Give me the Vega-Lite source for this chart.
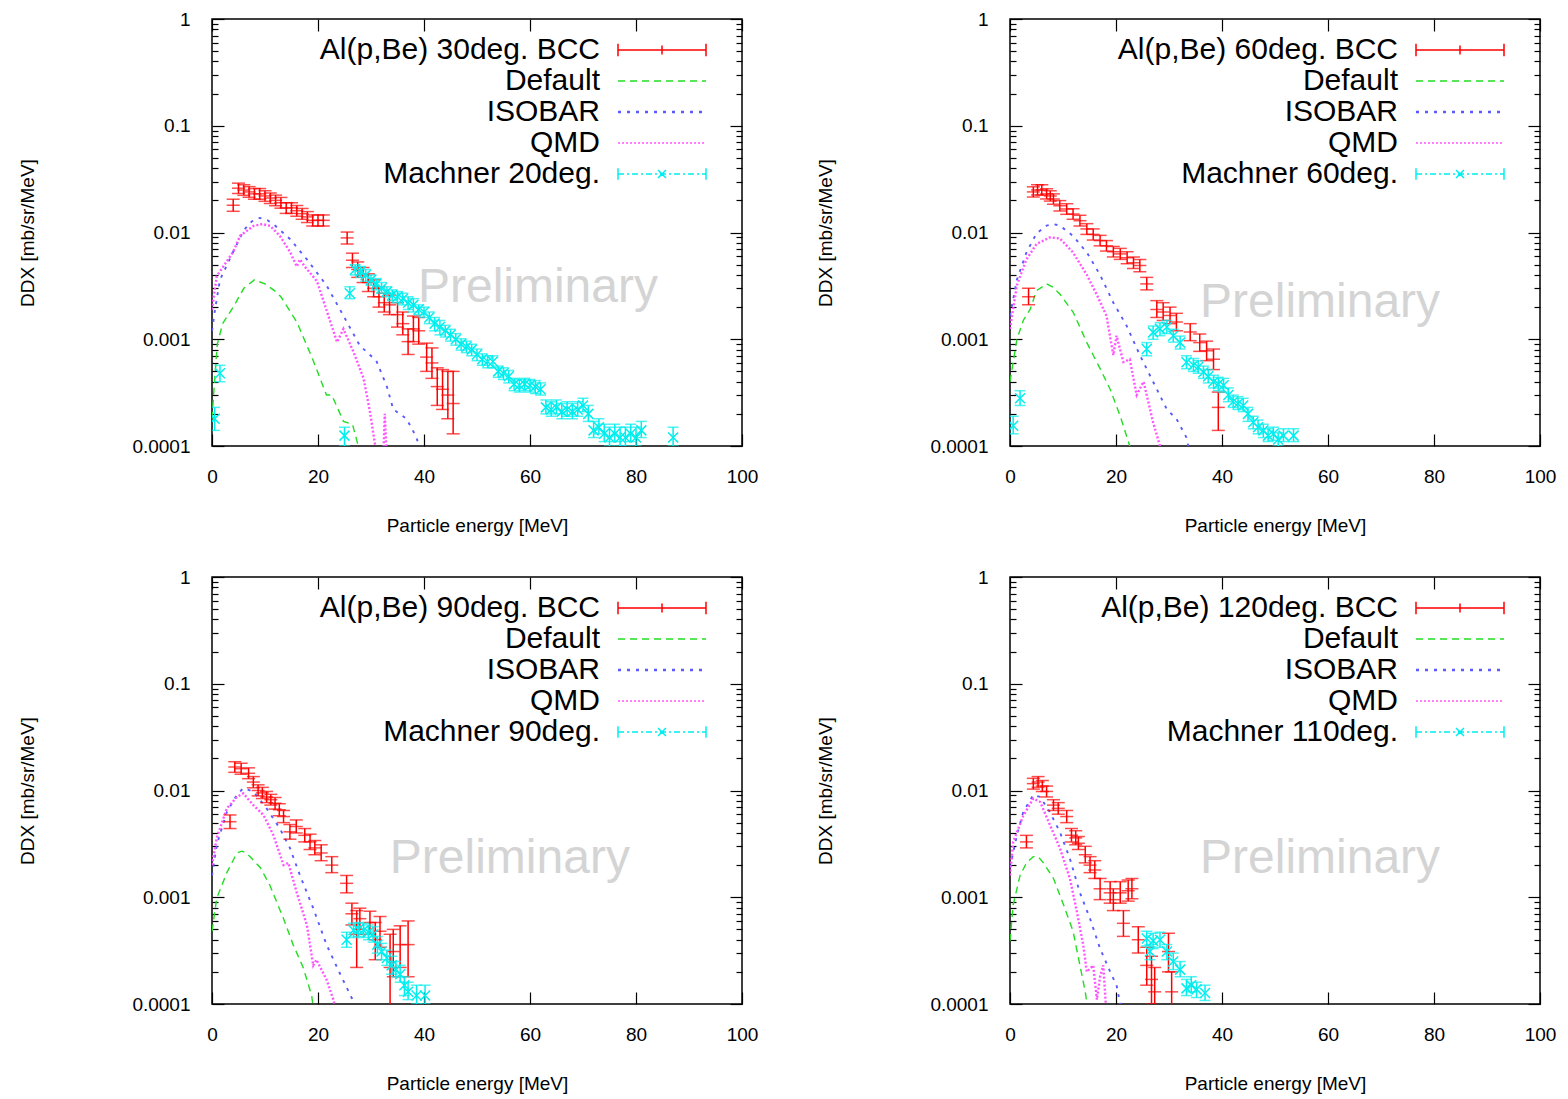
{
"$schema": "https://vega.github.io/schema/vega-lite/v6.json",
"background": "#ffffff",
"padding": {"left": 18, "top": 9, "right": 5, "bottom": 5},
"config": {"font": "Liberation Sans", "view": {"stroke": "#000000", "strokeWidth": 1.5}, "axis": {"domain": false, "grid": false}},
"datasets": {
"l1": [
{"s":"Default","E":0,"v":0.00018},{"s":"Default","E":0.3,"v":0.0003},{"s":"Default","E":1,"v":0.0009},{"s":"Default","E":2,"v":0.0014},{"s":"Default","E":4,"v":0.002},{"s":"Default","E":6,"v":0.003},{"s":"Default","E":8,"v":0.0036},{"s":"Default","E":10,"v":0.0033},{"s":"Default","E":12,"v":0.0028},{"s":"Default","E":13,"v":0.0025},{"s":"Default","E":16,"v":0.00145},{"s":"Default","E":19,"v":0.00065},{"s":"Default","E":21.6,"v":0.0003},{"s":"Default","E":22.6,"v":0.0003},{"s":"Default","E":24.8,"v":0.00017},{"s":"Default","E":26.5,"v":0.00016},{"s":"Default","E":27.6,"v":0.0001},{"s":"Default","E":28,"v":0.00008},
{"s":"ISOBAR","E":0,"v":0.0012},{"s":"ISOBAR","E":0.5,"v":0.0018},{"s":"ISOBAR","E":1.5,"v":0.0036},{"s":"ISOBAR","E":4,"v":0.0066},{"s":"ISOBAR","E":6,"v":0.0105},{"s":"ISOBAR","E":7.5,"v":0.0127},{"s":"ISOBAR","E":9,"v":0.0137},{"s":"ISOBAR","E":10.5,"v":0.013},{"s":"ISOBAR","E":12,"v":0.0115},{"s":"ISOBAR","E":14.7,"v":0.0087},{"s":"ISOBAR","E":17.9,"v":0.0056},{"s":"ISOBAR","E":21.6,"v":0.0032},{"s":"ISOBAR","E":24.8,"v":0.00166},{"s":"ISOBAR","E":27.9,"v":0.00087},{"s":"ISOBAR","E":31,"v":0.00063},{"s":"ISOBAR","E":33,"v":0.00036},{"s":"ISOBAR","E":34.2,"v":0.00022},{"s":"ISOBAR","E":36.7,"v":0.00018},{"s":"ISOBAR","E":38.6,"v":0.00012},{"s":"ISOBAR","E":39.5,"v":0.00008},
{"s":"QMD","E":0,"v":0.0019},{"s":"QMD","E":0.9,"v":0.0039},{"s":"QMD","E":4,"v":0.0066},{"s":"QMD","E":5.3,"v":0.0093},{"s":"QMD","E":7.8,"v":0.0115},{"s":"QMD","E":9.5,"v":0.012},{"s":"QMD","E":11,"v":0.0115},{"s":"QMD","E":12.8,"v":0.0093},{"s":"QMD","E":14.7,"v":0.0066},{"s":"QMD","E":16,"v":0.0048},{"s":"QMD","E":16.6,"v":0.0056},{"s":"QMD","E":17.5,"v":0.0048},{"s":"QMD","E":19.8,"v":0.0035},{"s":"QMD","E":23.6,"v":0.00094},{"s":"QMD","E":24.8,"v":0.00125},{"s":"QMD","E":26.7,"v":0.00076},{"s":"QMD","E":28.6,"v":0.00043},{"s":"QMD","E":29.8,"v":0.00021},{"s":"QMD","E":30.8,"v":0.0001},{"s":"QMD","E":31.5,"v":0.00007},{"s":"QMD","E":32.3,"v":0.00007},{"s":"QMD","E":32.6,"v":0.0002},{"s":"QMD","E":33,"v":0.00007}
],
"b1": [
{"E":4,"v":0.018,"lo":0.0158,"hi":0.0205},{"E":5,"v":0.026,"lo":0.0232,"hi":0.029},{"E":6,"v":0.025,"lo":0.0223,"hi":0.028},{"E":7,"v":0.024,"lo":0.0214,"hi":0.0269},{"E":8,"v":0.023,"lo":0.0205,"hi":0.0258},{"E":9,"v":0.023,"lo":0.0205,"hi":0.0258},{"E":10,"v":0.022,"lo":0.0196,"hi":0.0246},{"E":11,"v":0.021,"lo":0.0187,"hi":0.0235},{"E":12,"v":0.02,"lo":0.0178,"hi":0.0224},{"E":13,"v":0.019,"lo":0.0169,"hi":0.0213},{"E":14,"v":0.017,"lo":0.0151,"hi":0.019},{"E":15,"v":0.017,"lo":0.0151,"hi":0.019},{"E":16,"v":0.016,"lo":0.0142,"hi":0.0179},{"E":17,"v":0.015,"lo":0.0133,"hi":0.0168},{"E":18,"v":0.014,"lo":0.0124,"hi":0.0157},{"E":19,"v":0.013,"lo":0.0115,"hi":0.0146},{"E":20,"v":0.013,"lo":0.0115,"hi":0.0146},{"E":21,"v":0.013,"lo":0.0115,"hi":0.0146},
{"E":25.5,"v":0.0089,"lo":0.0078,"hi":0.0101},{"E":26.5,"v":0.0055,"lo":0.0047,"hi":0.0064},{"E":27.5,"v":0.0045,"lo":0.0038,"hi":0.0053},{"E":28.5,"v":0.004,"lo":0.0034,"hi":0.0047},{"E":29.5,"v":0.0034,"lo":0.0028,"hi":0.0041},{"E":30.5,"v":0.003,"lo":0.0025,"hi":0.0036},{"E":31.5,"v":0.0025,"lo":0.002,"hi":0.0031},{"E":32.5,"v":0.0022,"lo":0.0018,"hi":0.0027},{"E":33.5,"v":0.0021,"lo":0.0017,"hi":0.0026},{"E":35,"v":0.0017,"lo":0.0013,"hi":0.0022},{"E":36,"v":0.0014,"lo":0.0011,"hi":0.0018},{"E":37,"v":0.00095,"lo":0.00072,"hi":0.00125},{"E":38,"v":0.00125,"lo":0.00095,"hi":0.00165},{"E":39,"v":0.0012,"lo":0.0009,"hi":0.0016},{"E":40.5,"v":0.00068,"lo":0.0005,"hi":0.00092},{"E":41.5,"v":0.0006,"lo":0.00043,"hi":0.00083},{"E":42.5,"v":0.00036,"lo":0.00024,"hi":0.00054},{"E":43.5,"v":0.00034,"lo":0.00022,"hi":0.00052},{"E":44.5,"v":0.0003,"lo":0.00018,"hi":0.0005},{"E":45.5,"v":0.00025,"lo":0.00013,"hi":0.0005}
],
"m1": [
{"E":0.5,"v":0.00018,"lo":0.00014,"hi":0.00023},{"E":1.5,"v":0.00048,"lo":0.0004,"hi":0.00057},{"E":25,"v":0.000125,"lo":0.0001,"hi":0.00015},{"E":26,"v":0.0027,"lo":0.0024,"hi":0.0031},{"E":27,"v":0.0045,"lo":0.004,"hi":0.005},{"E":28,"v":0.0043,"lo":0.0038,"hi":0.0048},{"E":29,"v":0.004,"lo":0.0035,"hi":0.0045},{"E":30,"v":0.0036,"lo":0.0032,"hi":0.004},{"E":31,"v":0.0033,"lo":0.0029,"hi":0.0037},{"E":32,"v":0.003,"lo":0.0027,"hi":0.0034},{"E":33,"v":0.0028,"lo":0.0025,"hi":0.0031},{"E":34,"v":0.0026,"lo":0.0023,"hi":0.0029},{"E":35,"v":0.0025,"lo":0.0022,"hi":0.0028},{"E":36,"v":0.0024,"lo":0.0021,"hi":0.0027},{"E":37,"v":0.0022,"lo":0.0019,"hi":0.0025},{"E":38,"v":0.0021,"lo":0.0018,"hi":0.0024},{"E":39,"v":0.0019,"lo":0.0017,"hi":0.0021},{"E":40,"v":0.0018,"lo":0.0016,"hi":0.002},{"E":41,"v":0.0016,"lo":0.0014,"hi":0.0018},{"E":42,"v":0.0014,"lo":0.0012,"hi":0.0016},{"E":43,"v":0.0013,"lo":0.0011,"hi":0.0015},{"E":44,"v":0.0012,"lo":0.00105,"hi":0.00135},{"E":45,"v":0.0011,"lo":0.00096,"hi":0.00124},{"E":46,"v":0.001,"lo":0.00088,"hi":0.00113},{"E":47,"v":0.0009,"lo":0.00079,"hi":0.00101},{"E":48,"v":0.00085,"lo":0.00075,"hi":0.00096},{"E":49,"v":0.0008,"lo":0.0007,"hi":0.0009},{"E":50,"v":0.00072,"lo":0.00063,"hi":0.00081},{"E":51,"v":0.00065,"lo":0.00057,"hi":0.00073},{"E":52,"v":0.00062,"lo":0.00054,"hi":0.0007},{"E":53,"v":0.00062,"lo":0.00054,"hi":0.0007},{"E":54,"v":0.0005,"lo":0.00044,"hi":0.00056},{"E":55,"v":0.00048,"lo":0.00042,"hi":0.00054},{"E":56,"v":0.00045,"lo":0.00039,"hi":0.00051},{"E":57,"v":0.00038,"lo":0.00033,"hi":0.00043},{"E":58,"v":0.00037,"lo":0.00032,"hi":0.00042},{"E":59,"v":0.00038,"lo":0.00033,"hi":0.00043},{"E":60,"v":0.00037,"lo":0.00032,"hi":0.00042},{"E":61,"v":0.00036,"lo":0.00031,"hi":0.00041},{"E":62,"v":0.00034,"lo":0.0003,"hi":0.00039},{"E":63,"v":0.00023,"lo":0.0002,"hi":0.00027},{"E":64,"v":0.00022,"lo":0.00019,"hi":0.00026},{"E":65,"v":0.00023,"lo":0.0002,"hi":0.00027},{"E":66,"v":0.00021,"lo":0.00018,"hi":0.00025},{"E":67,"v":0.00022,"lo":0.00019,"hi":0.00026},{"E":68,"v":0.00021,"lo":0.00018,"hi":0.00025},{"E":69,"v":0.00022,"lo":0.00019,"hi":0.00026},{"E":70,"v":0.00024,"lo":0.00021,"hi":0.00028},{"E":71,"v":0.0002,"lo":0.00017,"hi":0.00024},{"E":72,"v":0.00014,"lo":0.00012,"hi":0.00017},{"E":73,"v":0.00015,"lo":0.00013,"hi":0.00018},{"E":74,"v":0.00013,"lo":0.00011,"hi":0.00016},{"E":75,"v":0.00012,"lo":0.0001,"hi":0.00015},{"E":76,"v":0.00013,"lo":0.00011,"hi":0.00016},{"E":77,"v":0.00012,"lo":0.0001,"hi":0.00015},{"E":78,"v":0.00012,"lo":0.0001,"hi":0.00015},{"E":79,"v":0.00013,"lo":0.00011,"hi":0.00016},{"E":80,"v":0.00012,"lo":0.0001,"hi":0.00015},{"E":81,"v":0.00014,"lo":0.00012,"hi":0.00017},{"E":87,"v":0.00012,"lo":0.0001,"hi":0.00015}
],
"l2": [
{"s":"Default","E":0,"v":0.0004},{"s":"Default","E":1.3,"v":0.001},{"s":"Default","E":2.5,"v":0.0015},{"s":"Default","E":3.8,"v":0.0019},{"s":"Default","E":5,"v":0.00285},{"s":"Default","E":6.9,"v":0.0033},{"s":"Default","E":8,"v":0.0031},{"s":"Default","E":9.4,"v":0.00265},{"s":"Default","E":11.9,"v":0.0018},{"s":"Default","E":14.5,"v":0.00093},{"s":"Default","E":17,"v":0.00053},{"s":"Default","E":18.9,"v":0.00034},{"s":"Default","E":20.8,"v":0.00019},{"s":"Default","E":22.6,"v":0.0001},{"s":"Default","E":23.2,"v":0.00008},
{"s":"ISOBAR","E":0,"v":0.00166},{"s":"ISOBAR","E":1.3,"v":0.0036},{"s":"ISOBAR","E":3.1,"v":0.0065},{"s":"ISOBAR","E":5,"v":0.0098},{"s":"ISOBAR","E":6.9,"v":0.0116},{"s":"ISOBAR","E":8.2,"v":0.012},{"s":"ISOBAR","E":9.4,"v":0.0116},{"s":"ISOBAR","E":11.9,"v":0.0093},{"s":"ISOBAR","E":14.5,"v":0.0065},{"s":"ISOBAR","E":17,"v":0.004},{"s":"ISOBAR","E":19.5,"v":0.0022},{"s":"ISOBAR","E":22,"v":0.00134},{"s":"ISOBAR","E":24.5,"v":0.00071},{"s":"ISOBAR","E":27,"v":0.0004},{"s":"ISOBAR","E":29.6,"v":0.00022},{"s":"ISOBAR","E":31.4,"v":0.00018},{"s":"ISOBAR","E":33.3,"v":0.00012},{"s":"ISOBAR","E":34,"v":0.00008},
{"s":"QMD","E":0,"v":0.00125},{"s":"QMD","E":1.3,"v":0.0032},{"s":"QMD","E":3.1,"v":0.0056},{"s":"QMD","E":5,"v":0.0078},{"s":"QMD","E":7.5,"v":0.009},{"s":"QMD","E":9.4,"v":0.0088},{"s":"QMD","E":11.9,"v":0.0065},{"s":"QMD","E":14.5,"v":0.004},{"s":"QMD","E":16.4,"v":0.0026},{"s":"QMD","E":18.2,"v":0.00166},{"s":"QMD","E":19.5,"v":0.00071},{"s":"QMD","E":20.1,"v":0.00108},{"s":"QMD","E":21.4,"v":0.00061},{"s":"QMD","E":22.6,"v":0.00065},{"s":"QMD","E":23.9,"v":0.0003},{"s":"QMD","E":25.2,"v":0.0004},{"s":"QMD","E":27,"v":0.000167},{"s":"QMD","E":28.3,"v":0.0001},{"s":"QMD","E":28.9,"v":0.00007}
],
"b2": [
{"E":3.5,"v":0.0025,"lo":0.0021,"hi":0.003},{"E":4.4,"v":0.024,"lo":0.0215,"hi":0.0268},{"E":5.2,"v":0.025,"lo":0.0224,"hi":0.028},{"E":6,"v":0.025,"lo":0.0224,"hi":0.028},{"E":6.9,"v":0.023,"lo":0.0206,"hi":0.0257},{"E":7.6,"v":0.022,"lo":0.0197,"hi":0.0246},{"E":8.2,"v":0.0206,"lo":0.0184,"hi":0.023},{"E":9.4,"v":0.0178,"lo":0.0159,"hi":0.0199},{"E":10.7,"v":0.0166,"lo":0.0148,"hi":0.0186},{"E":11.9,"v":0.0149,"lo":0.0133,"hi":0.0167},{"E":13.2,"v":0.0129,"lo":0.0115,"hi":0.0145},{"E":14.5,"v":0.0108,"lo":0.0096,"hi":0.0121},{"E":15.7,"v":0.0096,"lo":0.0085,"hi":0.0108},{"E":17,"v":0.0084,"lo":0.0075,"hi":0.0094},{"E":18.2,"v":0.0075,"lo":0.0067,"hi":0.0084},{"E":19.5,"v":0.0066,"lo":0.0059,"hi":0.0074},{"E":20.8,"v":0.0063,"lo":0.0056,"hi":0.0071},{"E":22.1,"v":0.0058,"lo":0.0051,"hi":0.0066},{"E":23.3,"v":0.0052,"lo":0.0046,"hi":0.0059},{"E":24.5,"v":0.0049,"lo":0.0043,"hi":0.0056},{"E":25.8,"v":0.0033,"lo":0.0029,"hi":0.0038},{"E":27.7,"v":0.0019,"lo":0.0016,"hi":0.0023},{"E":28.9,"v":0.0018,"lo":0.0015,"hi":0.0022},{"E":30.2,"v":0.00167,"lo":0.0014,"hi":0.002},{"E":31.4,"v":0.00145,"lo":0.0012,"hi":0.00175},{"E":34,"v":0.00117,"lo":0.00097,"hi":0.0014},{"E":35.8,"v":0.00093,"lo":0.00077,"hi":0.00112},{"E":37.1,"v":0.00078,"lo":0.00063,"hi":0.00096},{"E":38.4,"v":0.00065,"lo":0.00052,"hi":0.00081},{"E":39.3,"v":0.00023,"lo":0.00014,"hi":0.00032}
],
"m2": [
{"E":0.6,"v":0.000155,"lo":0.00013,"hi":0.00019},{"E":1.9,"v":0.00028,"lo":0.00024,"hi":0.00033},{"E":25.8,"v":0.00081,"lo":0.0007,"hi":0.00093},{"E":27,"v":0.00116,"lo":0.001,"hi":0.00133},{"E":28.3,"v":0.00125,"lo":0.00108,"hi":0.00143},{"E":29.6,"v":0.0013,"lo":0.00113,"hi":0.0015},{"E":30.8,"v":0.00108,"lo":0.00094,"hi":0.00124},{"E":32.1,"v":0.00093,"lo":0.00081,"hi":0.00107},{"E":33.3,"v":0.00061,"lo":0.00053,"hi":0.0007},{"E":34.6,"v":0.00057,"lo":0.0005,"hi":0.00066},{"E":35.5,"v":0.00055,"lo":0.00048,"hi":0.00063},{"E":36.5,"v":0.00049,"lo":0.00043,"hi":0.00056},{"E":37.4,"v":0.00045,"lo":0.00039,"hi":0.00052},{"E":38.4,"v":0.0004,"lo":0.00035,"hi":0.00046},{"E":39.3,"v":0.00038,"lo":0.00033,"hi":0.00044},{"E":40.3,"v":0.00037,"lo":0.00032,"hi":0.00043},{"E":41.2,"v":0.0003,"lo":0.00026,"hi":0.00035},{"E":42.1,"v":0.00026,"lo":0.00023,"hi":0.0003},{"E":43,"v":0.00025,"lo":0.00022,"hi":0.00029},{"E":44,"v":0.00024,"lo":0.00021,"hi":0.00028},{"E":44.9,"v":0.0002,"lo":0.00017,"hi":0.00023},{"E":45.9,"v":0.000167,"lo":0.000145,"hi":0.00019},{"E":46.8,"v":0.00015,"lo":0.00013,"hi":0.000175},{"E":47.8,"v":0.00014,"lo":0.00012,"hi":0.00016},{"E":48.7,"v":0.000125,"lo":0.00011,"hi":0.000145},{"E":49.7,"v":0.00013,"lo":0.000113,"hi":0.00015},{"E":50.6,"v":0.000115,"lo":0.0001,"hi":0.000133},{"E":51.6,"v":0.000125,"lo":0.00011,"hi":0.000145},{"E":53.5,"v":0.000125,"lo":0.00011,"hi":0.000145}
],
"l3": [
{"s":"Default","E":0,"v":0.00048},{"s":"Default","E":0.9,"v":0.00098},{"s":"Default","E":2.8,"v":0.0017},{"s":"Default","E":4.7,"v":0.0026},{"s":"Default","E":5.6,"v":0.0027},{"s":"Default","E":6.5,"v":0.0026},{"s":"Default","E":9.1,"v":0.0019},{"s":"Default","E":10.9,"v":0.0013},{"s":"Default","E":13.5,"v":0.00063},{"s":"Default","E":15.3,"v":0.00036},{"s":"Default","E":17.2,"v":0.00022},{"s":"Default","E":18.8,"v":0.00012},{"s":"Default","E":19.3,"v":0.00008},
{"s":"ISOBAR","E":0,"v":0.0016},{"s":"ISOBAR","E":0.9,"v":0.0031},{"s":"ISOBAR","E":2.8,"v":0.0063},{"s":"ISOBAR","E":4.7,"v":0.0091},{"s":"ISOBAR","E":5.9,"v":0.0105},{"s":"ISOBAR","E":7.8,"v":0.0098},{"s":"ISOBAR","E":10.3,"v":0.0068},{"s":"ISOBAR","E":12.8,"v":0.0044},{"s":"ISOBAR","E":14.7,"v":0.0029},{"s":"ISOBAR","E":16.6,"v":0.0016},{"s":"ISOBAR","E":19.1,"v":0.00079},{"s":"ISOBAR","E":21.6,"v":0.00036},{"s":"ISOBAR","E":24.2,"v":0.00019},{"s":"ISOBAR","E":26.4,"v":0.000113},{"s":"ISOBAR","E":27,"v":0.00008},
{"s":"QMD","E":0,"v":0.002},{"s":"QMD","E":0.9,"v":0.0036},{"s":"QMD","E":2.8,"v":0.0068},{"s":"QMD","E":4.7,"v":0.0087},{"s":"QMD","E":5.9,"v":0.0094},{"s":"QMD","E":7.8,"v":0.0073},{"s":"QMD","E":9.7,"v":0.0059},{"s":"QMD","E":11.6,"v":0.0038},{"s":"QMD","E":13.5,"v":0.002},{"s":"QMD","E":14.4,"v":0.0021},{"s":"QMD","E":16,"v":0.0011},{"s":"QMD","E":17.9,"v":0.00055},{"s":"QMD","E":19.1,"v":0.00023},{"s":"QMD","E":19.7,"v":0.00026},{"s":"QMD","E":21.6,"v":0.00017},{"s":"QMD","E":22.9,"v":0.00011},{"s":"QMD","E":23.5,"v":0.00008}
],
"b3": [
{"E":3.4,"v":0.0051,"lo":0.0044,"hi":0.0059},{"E":4.3,"v":0.0166,"lo":0.0148,"hi":0.0186},{"E":5.5,"v":0.016,"lo":0.0142,"hi":0.018},{"E":6.9,"v":0.0145,"lo":0.0129,"hi":0.0163},{"E":7.8,"v":0.012,"lo":0.0106,"hi":0.0135},{"E":8.7,"v":0.01,"lo":0.0089,"hi":0.0113},{"E":9.5,"v":0.0095,"lo":0.0084,"hi":0.0107},{"E":10.3,"v":0.0087,"lo":0.0077,"hi":0.0098},{"E":11.1,"v":0.0082,"lo":0.0073,"hi":0.0092},{"E":11.9,"v":0.0076,"lo":0.0067,"hi":0.0086},{"E":12.7,"v":0.0066,"lo":0.0058,"hi":0.0075},{"E":13.5,"v":0.0057,"lo":0.005,"hi":0.0065},{"E":14.7,"v":0.0041,"lo":0.0035,"hi":0.0048},{"E":15.9,"v":0.0046,"lo":0.004,"hi":0.0053},{"E":17.5,"v":0.0038,"lo":0.0033,"hi":0.0044},{"E":18.5,"v":0.0033,"lo":0.0028,"hi":0.0039},{"E":19.4,"v":0.0029,"lo":0.0025,"hi":0.0034},{"E":20.6,"v":0.0026,"lo":0.0022,"hi":0.0031},{"E":22.6,"v":0.002,"lo":0.0017,"hi":0.0024},{"E":25.4,"v":0.00135,"lo":0.0011,"hi":0.0016},{"E":26.4,"v":0.0007,"lo":0.00055,"hi":0.00088},{"E":27.3,"v":0.00045,"lo":0.00022,"hi":0.00075},{"E":27.9,"v":0.00063,"lo":0.0005,"hi":0.00079},{"E":29.8,"v":0.00058,"lo":0.00045,"hi":0.00074},{"E":30.8,"v":0.0004,"lo":0.00026,"hi":0.00058},{"E":31.7,"v":0.00048,"lo":0.00034,"hi":0.00066},{"E":33.6,"v":0.00022,"lo":0.00008,"hi":0.00045},{"E":34.2,"v":0.00031,"lo":0.00018,"hi":0.0005},{"E":35.5,"v":0.00036,"lo":0.00022,"hi":0.00054},{"E":37,"v":0.00036,"lo":0.00018,"hi":0.0006}
],
"m3": [
{"E":25.4,"v":0.0004,"lo":0.00034,"hi":0.00047},{"E":26.7,"v":0.00049,"lo":0.00042,"hi":0.00057},{"E":27.6,"v":0.0005,"lo":0.00043,"hi":0.00058},{"E":28.6,"v":0.00049,"lo":0.00042,"hi":0.00057},{"E":29.5,"v":0.00047,"lo":0.0004,"hi":0.00055},{"E":30.4,"v":0.00045,"lo":0.00038,"hi":0.00053},{"E":31.2,"v":0.00036,"lo":0.0003,"hi":0.00043},{"E":32,"v":0.00031,"lo":0.00026,"hi":0.00037},{"E":33,"v":0.00027,"lo":0.00023,"hi":0.00032},{"E":33.9,"v":0.00023,"lo":0.00019,"hi":0.00028},{"E":34.7,"v":0.00021,"lo":0.00018,"hi":0.00025},{"E":35.5,"v":0.00019,"lo":0.00016,"hi":0.00023},{"E":36.3,"v":0.00015,"lo":0.00012,"hi":0.00018},{"E":37,"v":0.00013,"lo":0.00011,"hi":0.00016},{"E":38.6,"v":0.00012,"lo":0.0001,"hi":0.00015},{"E":40.2,"v":0.00012,"lo":0.0001,"hi":0.00015}
],
"l4": [
{"s":"Default","E":0,"v":0.00039},{"s":"Default","E":0.6,"v":0.00085},{"s":"Default","E":1.9,"v":0.0016},{"s":"Default","E":3.1,"v":0.0021},{"s":"Default","E":4.4,"v":0.0024},{"s":"Default","E":5.3,"v":0.0024},{"s":"Default","E":6.3,"v":0.0021},{"s":"Default","E":8.2,"v":0.0015},{"s":"Default","E":10.1,"v":0.00085},{"s":"Default","E":11.9,"v":0.00048},{"s":"Default","E":13.2,"v":0.00023},{"s":"Default","E":14.2,"v":0.00013},{"s":"Default","E":14.8,"v":0.00008},
{"s":"ISOBAR","E":0,"v":0.0019},{"s":"ISOBAR","E":1.3,"v":0.0038},{"s":"ISOBAR","E":2.5,"v":0.0063},{"s":"ISOBAR","E":4.4,"v":0.0091},{"s":"ISOBAR","E":5.7,"v":0.0087},{"s":"ISOBAR","E":7.5,"v":0.0063},{"s":"ISOBAR","E":9.4,"v":0.0041},{"s":"ISOBAR","E":11.3,"v":0.0023},{"s":"ISOBAR","E":13.2,"v":0.0011},{"s":"ISOBAR","E":15.1,"v":0.00063},{"s":"ISOBAR","E":17,"v":0.00033},{"s":"ISOBAR","E":18.9,"v":0.0002},{"s":"ISOBAR","E":20.1,"v":0.00015},{"s":"ISOBAR","E":20.8,"v":0.0001},{"s":"ISOBAR","E":21.2,"v":0.00008},
{"s":"QMD","E":0,"v":0.0016},{"s":"QMD","E":0.6,"v":0.0033},{"s":"QMD","E":2.5,"v":0.0058},{"s":"QMD","E":4.4,"v":0.0084},{"s":"QMD","E":5.7,"v":0.0078},{"s":"QMD","E":7.5,"v":0.0048},{"s":"QMD","E":9.4,"v":0.0029},{"s":"QMD","E":11.3,"v":0.0015},{"s":"QMD","E":12.6,"v":0.00074},{"s":"QMD","E":13.8,"v":0.00036},{"s":"QMD","E":14.5,"v":0.0002},{"s":"QMD","E":15.7,"v":0.00023},{"s":"QMD","E":16.4,"v":0.00011},{"s":"QMD","E":17,"v":0.00018},{"s":"QMD","E":17.6,"v":0.00023},{"s":"QMD","E":18.2,"v":0.00008}
],
"b4": [
{"E":3.1,"v":0.0033,"lo":0.0029,"hi":0.0038},{"E":4.4,"v":0.0116,"lo":0.0103,"hi":0.013},{"E":5.3,"v":0.012,"lo":0.0107,"hi":0.0135},{"E":6.1,"v":0.011,"lo":0.0098,"hi":0.0124},{"E":6.9,"v":0.0098,"lo":0.0087,"hi":0.011},{"E":8.2,"v":0.0073,"lo":0.0065,"hi":0.0082},{"E":9.1,"v":0.0068,"lo":0.006,"hi":0.0077},{"E":10.7,"v":0.0057,"lo":0.005,"hi":0.0065},{"E":11.6,"v":0.0038,"lo":0.0033,"hi":0.0044},{"E":12.4,"v":0.0036,"lo":0.0031,"hi":0.0042},{"E":12.9,"v":0.0032,"lo":0.0028,"hi":0.0037},{"E":14.2,"v":0.0025,"lo":0.0021,"hi":0.003},{"E":15.1,"v":0.002,"lo":0.0017,"hi":0.0024},{"E":16,"v":0.0018,"lo":0.0015,"hi":0.0022},{"E":17,"v":0.0012,"lo":0.00095,"hi":0.0015},{"E":18.9,"v":0.0011,"lo":0.00088,"hi":0.0014},{"E":19.5,"v":0.00095,"lo":0.00075,"hi":0.0012},{"E":20.8,"v":0.0011,"lo":0.00088,"hi":0.0014},{"E":21.4,"v":0.00057,"lo":0.00043,"hi":0.00075},{"E":22.3,"v":0.00115,"lo":0.00092,"hi":0.00145},{"E":23,"v":0.0012,"lo":0.00097,"hi":0.0015},{"E":24.2,"v":0.0004,"lo":0.0003,"hi":0.00053},{"E":25.8,"v":0.00023,"lo":0.00015,"hi":0.00034},{"E":26.7,"v":0.00017,"lo":0.0001,"hi":0.00028},{"E":27.3,"v":0.00013,"lo":0.00007,"hi":0.00022},{"E":29.9,"v":0.00031,"lo":0.0002,"hi":0.00046},{"E":30.5,"v":0.00013,"lo":0.00008,"hi":0.0002}
],
"m4": [
{"E":25.8,"v":0.00041,"lo":0.00035,"hi":0.00048},{"E":26.4,"v":0.00031,"lo":0.00026,"hi":0.00036},{"E":27,"v":0.00039,"lo":0.00033,"hi":0.00046},{"E":28.3,"v":0.0004,"lo":0.00034,"hi":0.00047},{"E":29.6,"v":0.00031,"lo":0.00026,"hi":0.00036},{"E":30.8,"v":0.00025,"lo":0.00021,"hi":0.0003},{"E":32.1,"v":0.00021,"lo":0.00018,"hi":0.00025},{"E":33.3,"v":0.00014,"lo":0.00012,"hi":0.00017},{"E":34.2,"v":0.00015,"lo":0.00013,"hi":0.00018},{"E":35.2,"v":0.000137,"lo":0.000115,"hi":0.00016},{"E":36.8,"v":0.000127,"lo":0.000108,"hi":0.00015}
]
},
"columns": 2,
"spacing": {"row": 131, "column": 268},
"bounds": "flush",
"resolve": {"scale": {"x": "independent", "y": "independent", "color": "independent", "strokeDash": "independent", "strokeWidth": "independent"}, "legend": {"color": "independent"}},
"concat": [
{
"width": 530, "height": 427,
"resolve": {"axis": {"x": "independent", "y": "independent"}},
"layer": [
{"data": {"values": [{}]}, "mark": {"type": "text", "text": "Preliminary", "fontSize": 48, "color": "#d4d4d4"},
 "encoding": {"x": {"datum": 61.5, "type": "quantitative", "scale": {"domain": [0,100], "nice": false, "zero": false}, "axis": null}, "y": {"datum": 0.003, "type": "quantitative", "scale": {"type": "log", "domain": [0.0001,1], "nice": false}, "axis": null}}},
{"data": {"name": "l1"}, "mark": {"type": "line", "clip": true},
 "encoding": {
  "x": {"field": "E", "type": "quantitative", "scale": {"domain": [0,100], "nice": false, "zero": false}, "axis": {"orient": "bottom", "values": [0,20,40,60,80,100], "tickSize": -12, "tickWidth": 1.2, "tickColor": "#000000", "labelFontSize": 19, "labelColor": "#000000", "labelPadding": 33, "labelFlush": false, "title": "Particle energy [MeV]", "titleFontSize": 19, "titleFontWeight": "normal", "titleColor": "#000000", "titlePadding": 30}},
  "y": {"field": "v", "type": "quantitative", "scale": {"type": "log", "domain": [0.0001,1], "nice": false}, "axis": {"orient": "left", "values": [0.0001,0.0002,0.0003,0.0004,0.0005,0.0006,0.0007,0.0008,0.0009,0.001,0.002,0.003,0.004,0.005,0.006,0.007,0.008,0.009,0.01,0.02,0.03,0.04,0.05,0.06,0.07,0.08,0.09,0.1,0.2,0.3,0.4,0.5,0.6,0.7,0.8,0.9,1], "tickSize": {"condition": {"test": "datum.value==1||datum.value==0.1||datum.value==0.01||datum.value==0.001||datum.value==0.0001", "value": -12}, "value": -6}, "tickWidth": 1.2, "tickColor": "#000000", "labelExpr": "datum.value==1?'1':datum.value==0.1?'0.1':datum.value==0.01?'0.01':datum.value==0.001?'0.001':datum.value==0.0001?'0.0001':''", "labelFontSize": 19, "labelColor": "#000000", "labelPadding": 34, "labelFlush": false, "labelOverlap": false, "title": "DDX [mb/sr/MeV]", "titleFontSize": 19, "titleFontWeight": "normal", "titleColor": "#000000", "titlePadding": 94}},
  "color": {"field": "s", "type": "nominal", "scale": {"domain": ["Al(p,Be) 30deg. BCC","Default","ISOBAR","QMD","Machner 20deg."], "range": ["#ff0000","#22dd22","#5a5aff","#ff55ff","#00eeee"]},
   "legend": {"orient": "none", "legendX": 435, "legendY": 16, "title": null, "padding": 0, "labelFontSize": 30, "labelColor": "#000000", "labelAlign": "right", "labelOffset": -77, "labelLimit": 500, "symbolSize": 7744, "symbolStrokeWidth": 1.5, "rowPadding": 1,
    "encode": {"symbols": {"update": {"shape": {"signal": "indexof(datum.value,'BCC')>=0 ? 'M-1,0L1,0M-1,-0.14L-1,0.14M1,-0.14L1,0.14M0,-0.1L0,0.1' : indexof(datum.value,'Machner')>=0 ? 'M-1,0L1,0M-1,0L-1,-0.13M-1,0L-1,0.13M1,0L1,-0.13M1,0L1,0.13M0,0L-0.09,-0.09M0,0L0.09,0.09M0,0L-0.09,0.09M0,0L0.09,-0.09' : 'stroke'"}, "strokeDash": {"signal": "datum.value=='Default' ? [7,5] : datum.value=='ISOBAR' ? [3,6] : datum.value=='QMD' ? [2,2] : indexof(datum.value,'Machner')>=0 ? [6,3,2,3] : [1,0]"}, "strokeWidth": {"signal": "datum.value=='ISOBAR' ? 2.5 : 1.5"}, "fill": {"value": "transparent"}}}}}},
  "strokeDash": {"field": "s", "type": "nominal", "scale": {"domain": ["Default","ISOBAR","QMD"], "range": [[7,5],[3,6],[2,2]]}, "legend": null},
  "strokeWidth": {"field": "s", "type": "ordinal", "scale": {"domain": ["Default","ISOBAR","QMD"], "range": [1.4,2.4,1.8]}, "legend": null}
 }},
{"data": {"name": "b1"}, "mark": {"type": "rule", "color": "#ff0000", "strokeWidth": 1.5, "clip": true},
 "encoding": {
  "x": {"field": "E", "type": "quantitative", "scale": {"domain": [0,100], "nice": false, "zero": false}, "axis": {"orient": "top", "values": [0,20,40,60,80,100], "tickSize": -12, "tickWidth": 1.2, "tickColor": "#000000", "labels": false, "title": null}},
  "y": {"field": "lo", "type": "quantitative", "scale": {"type": "log", "domain": [0.0001,1], "nice": false}, "axis": {"orient": "right", "values": [0.0001,0.0002,0.0003,0.0004,0.0005,0.0006,0.0007,0.0008,0.0009,0.001,0.002,0.003,0.004,0.005,0.006,0.007,0.008,0.009,0.01,0.02,0.03,0.04,0.05,0.06,0.07,0.08,0.09,0.1,0.2,0.3,0.4,0.5,0.6,0.7,0.8,0.9,1], "tickSize": {"condition": {"test": "datum.value==1||datum.value==0.1||datum.value==0.01||datum.value==0.001||datum.value==0.0001", "value": -12}, "value": -6}, "tickWidth": 1.2, "tickColor": "#000000", "labels": false, "title": null}},
  "y2": {"field": "hi"}
 }},
{"data": {"name": "b1"}, "mark": {"type": "tick", "orient": "horizontal", "color": "#ff0000", "size": 13, "thickness": 1.5, "clip": true},
 "encoding": {"x": {"field": "E", "type": "quantitative", "scale": {"domain": [0,100], "nice": false, "zero": false}, "axis": null}, "y": {"field": "v", "type": "quantitative", "scale": {"type": "log", "domain": [0.0001,1], "nice": false}, "axis": null}}},
{"data": {"name": "b1"}, "mark": {"type": "tick", "orient": "horizontal", "color": "#ff0000", "size": 13, "thickness": 1.5, "clip": true},
 "encoding": {"x": {"field": "E", "type": "quantitative", "scale": {"domain": [0,100], "nice": false, "zero": false}, "axis": null}, "y": {"field": "lo", "type": "quantitative", "scale": {"type": "log", "domain": [0.0001,1], "nice": false}, "axis": null}}},
{"data": {"name": "b1"}, "mark": {"type": "tick", "orient": "horizontal", "color": "#ff0000", "size": 13, "thickness": 1.5, "clip": true},
 "encoding": {"x": {"field": "E", "type": "quantitative", "scale": {"domain": [0,100], "nice": false, "zero": false}, "axis": null}, "y": {"field": "hi", "type": "quantitative", "scale": {"type": "log", "domain": [0.0001,1], "nice": false}, "axis": null}}},
{"data": {"name": "m1"}, "mark": {"type": "rule", "color": "#00eeee", "strokeWidth": 1.5, "clip": true},
 "encoding": {"x": {"field": "E", "type": "quantitative", "scale": {"domain": [0,100], "nice": false, "zero": false}, "axis": null}, "y": {"field": "lo", "type": "quantitative", "scale": {"type": "log", "domain": [0.0001,1], "nice": false}, "axis": null}, "y2": {"field": "hi"}}},
{"data": {"name": "m1"}, "mark": {"type": "tick", "orient": "horizontal", "color": "#00eeee", "size": 11, "thickness": 1.5, "clip": true},
 "encoding": {"x": {"field": "E", "type": "quantitative", "scale": {"domain": [0,100], "nice": false, "zero": false}, "axis": null}, "y": {"field": "lo", "type": "quantitative", "scale": {"type": "log", "domain": [0.0001,1], "nice": false}, "axis": null}}},
{"data": {"name": "m1"}, "mark": {"type": "tick", "orient": "horizontal", "color": "#00eeee", "size": 11, "thickness": 1.5, "clip": true},
 "encoding": {"x": {"field": "E", "type": "quantitative", "scale": {"domain": [0,100], "nice": false, "zero": false}, "axis": null}, "y": {"field": "hi", "type": "quantitative", "scale": {"type": "log", "domain": [0.0001,1], "nice": false}, "axis": null}}},
{"data": {"name": "m1"}, "mark": {"type": "point", "shape": "M-1,-1L1,1M-1,1L1,-1", "filled": false, "color": "#00eeee", "size": 100, "strokeWidth": 1.5, "opacity": 1, "clip": true},
 "encoding": {"x": {"field": "E", "type": "quantitative", "scale": {"domain": [0,100], "nice": false, "zero": false}, "axis": null}, "y": {"field": "v", "type": "quantitative", "scale": {"type": "log", "domain": [0.0001,1], "nice": false}, "axis": null}}}
]
},
{
"width": 530, "height": 427,
"resolve": {"axis": {"x": "independent", "y": "independent"}},
"layer": [
{"data": {"values": [{}]}, "mark": {"type": "text", "text": "Preliminary", "fontSize": 48, "color": "#d4d4d4"},
 "encoding": {"x": {"datum": 58.5, "type": "quantitative", "scale": {"domain": [0,100], "nice": false, "zero": false}, "axis": null}, "y": {"datum": 0.0022, "type": "quantitative", "scale": {"type": "log", "domain": [0.0001,1], "nice": false}, "axis": null}}},
{"data": {"name": "l2"}, "mark": {"type": "line", "clip": true},
 "encoding": {
  "x": {"field": "E", "type": "quantitative", "scale": {"domain": [0,100], "nice": false, "zero": false}, "axis": {"orient": "bottom", "values": [0,20,40,60,80,100], "tickSize": -12, "tickWidth": 1.2, "tickColor": "#000000", "labelFontSize": 19, "labelColor": "#000000", "labelPadding": 33, "labelFlush": false, "title": "Particle energy [MeV]", "titleFontSize": 19, "titleFontWeight": "normal", "titleColor": "#000000", "titlePadding": 30}},
  "y": {"field": "v", "type": "quantitative", "scale": {"type": "log", "domain": [0.0001,1], "nice": false}, "axis": {"orient": "left", "values": [0.0001,0.0002,0.0003,0.0004,0.0005,0.0006,0.0007,0.0008,0.0009,0.001,0.002,0.003,0.004,0.005,0.006,0.007,0.008,0.009,0.01,0.02,0.03,0.04,0.05,0.06,0.07,0.08,0.09,0.1,0.2,0.3,0.4,0.5,0.6,0.7,0.8,0.9,1], "tickSize": {"condition": {"test": "datum.value==1||datum.value==0.1||datum.value==0.01||datum.value==0.001||datum.value==0.0001", "value": -12}, "value": -6}, "tickWidth": 1.2, "tickColor": "#000000", "labelExpr": "datum.value==1?'1':datum.value==0.1?'0.1':datum.value==0.01?'0.01':datum.value==0.001?'0.001':datum.value==0.0001?'0.0001':''", "labelFontSize": 19, "labelColor": "#000000", "labelPadding": 34, "labelFlush": false, "labelOverlap": false, "title": "DDX [mb/sr/MeV]", "titleFontSize": 19, "titleFontWeight": "normal", "titleColor": "#000000", "titlePadding": 94}},
  "color": {"field": "s", "type": "nominal", "scale": {"domain": ["Al(p,Be) 60deg. BCC","Default","ISOBAR","QMD","Machner 60deg."], "range": ["#ff0000","#22dd22","#5a5aff","#ff55ff","#00eeee"]},
   "legend": {"orient": "none", "legendX": 435, "legendY": 16, "title": null, "padding": 0, "labelFontSize": 30, "labelColor": "#000000", "labelAlign": "right", "labelOffset": -77, "labelLimit": 500, "symbolSize": 7744, "symbolStrokeWidth": 1.5, "rowPadding": 1,
    "encode": {"symbols": {"update": {"shape": {"signal": "indexof(datum.value,'BCC')>=0 ? 'M-1,0L1,0M-1,-0.14L-1,0.14M1,-0.14L1,0.14M0,-0.1L0,0.1' : indexof(datum.value,'Machner')>=0 ? 'M-1,0L1,0M-1,0L-1,-0.13M-1,0L-1,0.13M1,0L1,-0.13M1,0L1,0.13M0,0L-0.09,-0.09M0,0L0.09,0.09M0,0L-0.09,0.09M0,0L0.09,-0.09' : 'stroke'"}, "strokeDash": {"signal": "datum.value=='Default' ? [7,5] : datum.value=='ISOBAR' ? [3,6] : datum.value=='QMD' ? [2,2] : indexof(datum.value,'Machner')>=0 ? [6,3,2,3] : [1,0]"}, "strokeWidth": {"signal": "datum.value=='ISOBAR' ? 2.5 : 1.5"}, "fill": {"value": "transparent"}}}}}},
  "strokeDash": {"field": "s", "type": "nominal", "scale": {"domain": ["Default","ISOBAR","QMD"], "range": [[7,5],[3,6],[2,2]]}, "legend": null},
  "strokeWidth": {"field": "s", "type": "ordinal", "scale": {"domain": ["Default","ISOBAR","QMD"], "range": [1.4,2.4,1.8]}, "legend": null}
 }},
{"data": {"name": "b2"}, "mark": {"type": "rule", "color": "#ff0000", "strokeWidth": 1.5, "clip": true},
 "encoding": {
  "x": {"field": "E", "type": "quantitative", "scale": {"domain": [0,100], "nice": false, "zero": false}, "axis": {"orient": "top", "values": [0,20,40,60,80,100], "tickSize": -12, "tickWidth": 1.2, "tickColor": "#000000", "labels": false, "title": null}},
  "y": {"field": "lo", "type": "quantitative", "scale": {"type": "log", "domain": [0.0001,1], "nice": false}, "axis": {"orient": "right", "values": [0.0001,0.0002,0.0003,0.0004,0.0005,0.0006,0.0007,0.0008,0.0009,0.001,0.002,0.003,0.004,0.005,0.006,0.007,0.008,0.009,0.01,0.02,0.03,0.04,0.05,0.06,0.07,0.08,0.09,0.1,0.2,0.3,0.4,0.5,0.6,0.7,0.8,0.9,1], "tickSize": {"condition": {"test": "datum.value==1||datum.value==0.1||datum.value==0.01||datum.value==0.001||datum.value==0.0001", "value": -12}, "value": -6}, "tickWidth": 1.2, "tickColor": "#000000", "labels": false, "title": null}},
  "y2": {"field": "hi"}
 }},
{"data": {"name": "b2"}, "mark": {"type": "tick", "orient": "horizontal", "color": "#ff0000", "size": 13, "thickness": 1.5, "clip": true},
 "encoding": {"x": {"field": "E", "type": "quantitative", "scale": {"domain": [0,100], "nice": false, "zero": false}, "axis": null}, "y": {"field": "v", "type": "quantitative", "scale": {"type": "log", "domain": [0.0001,1], "nice": false}, "axis": null}}},
{"data": {"name": "b2"}, "mark": {"type": "tick", "orient": "horizontal", "color": "#ff0000", "size": 13, "thickness": 1.5, "clip": true},
 "encoding": {"x": {"field": "E", "type": "quantitative", "scale": {"domain": [0,100], "nice": false, "zero": false}, "axis": null}, "y": {"field": "lo", "type": "quantitative", "scale": {"type": "log", "domain": [0.0001,1], "nice": false}, "axis": null}}},
{"data": {"name": "b2"}, "mark": {"type": "tick", "orient": "horizontal", "color": "#ff0000", "size": 13, "thickness": 1.5, "clip": true},
 "encoding": {"x": {"field": "E", "type": "quantitative", "scale": {"domain": [0,100], "nice": false, "zero": false}, "axis": null}, "y": {"field": "hi", "type": "quantitative", "scale": {"type": "log", "domain": [0.0001,1], "nice": false}, "axis": null}}},
{"data": {"name": "m2"}, "mark": {"type": "rule", "color": "#00eeee", "strokeWidth": 1.5, "clip": true},
 "encoding": {"x": {"field": "E", "type": "quantitative", "scale": {"domain": [0,100], "nice": false, "zero": false}, "axis": null}, "y": {"field": "lo", "type": "quantitative", "scale": {"type": "log", "domain": [0.0001,1], "nice": false}, "axis": null}, "y2": {"field": "hi"}}},
{"data": {"name": "m2"}, "mark": {"type": "tick", "orient": "horizontal", "color": "#00eeee", "size": 11, "thickness": 1.5, "clip": true},
 "encoding": {"x": {"field": "E", "type": "quantitative", "scale": {"domain": [0,100], "nice": false, "zero": false}, "axis": null}, "y": {"field": "lo", "type": "quantitative", "scale": {"type": "log", "domain": [0.0001,1], "nice": false}, "axis": null}}},
{"data": {"name": "m2"}, "mark": {"type": "tick", "orient": "horizontal", "color": "#00eeee", "size": 11, "thickness": 1.5, "clip": true},
 "encoding": {"x": {"field": "E", "type": "quantitative", "scale": {"domain": [0,100], "nice": false, "zero": false}, "axis": null}, "y": {"field": "hi", "type": "quantitative", "scale": {"type": "log", "domain": [0.0001,1], "nice": false}, "axis": null}}},
{"data": {"name": "m2"}, "mark": {"type": "point", "shape": "M-1,-1L1,1M-1,1L1,-1", "filled": false, "color": "#00eeee", "size": 100, "strokeWidth": 1.5, "opacity": 1, "clip": true},
 "encoding": {"x": {"field": "E", "type": "quantitative", "scale": {"domain": [0,100], "nice": false, "zero": false}, "axis": null}, "y": {"field": "v", "type": "quantitative", "scale": {"type": "log", "domain": [0.0001,1], "nice": false}, "axis": null}}}
]
},
{
"width": 530, "height": 427,
"resolve": {"axis": {"x": "independent", "y": "independent"}},
"layer": [
{"data": {"values": [{}]}, "mark": {"type": "text", "text": "Preliminary", "fontSize": 48, "color": "#d4d4d4"},
 "encoding": {"x": {"datum": 56.2, "type": "quantitative", "scale": {"domain": [0,100], "nice": false, "zero": false}, "axis": null}, "y": {"datum": 0.0023, "type": "quantitative", "scale": {"type": "log", "domain": [0.0001,1], "nice": false}, "axis": null}}},
{"data": {"name": "l3"}, "mark": {"type": "line", "clip": true},
 "encoding": {
  "x": {"field": "E", "type": "quantitative", "scale": {"domain": [0,100], "nice": false, "zero": false}, "axis": {"orient": "bottom", "values": [0,20,40,60,80,100], "tickSize": -12, "tickWidth": 1.2, "tickColor": "#000000", "labelFontSize": 19, "labelColor": "#000000", "labelPadding": 33, "labelFlush": false, "title": "Particle energy [MeV]", "titleFontSize": 19, "titleFontWeight": "normal", "titleColor": "#000000", "titlePadding": 30}},
  "y": {"field": "v", "type": "quantitative", "scale": {"type": "log", "domain": [0.0001,1], "nice": false}, "axis": {"orient": "left", "values": [0.0001,0.0002,0.0003,0.0004,0.0005,0.0006,0.0007,0.0008,0.0009,0.001,0.002,0.003,0.004,0.005,0.006,0.007,0.008,0.009,0.01,0.02,0.03,0.04,0.05,0.06,0.07,0.08,0.09,0.1,0.2,0.3,0.4,0.5,0.6,0.7,0.8,0.9,1], "tickSize": {"condition": {"test": "datum.value==1||datum.value==0.1||datum.value==0.01||datum.value==0.001||datum.value==0.0001", "value": -12}, "value": -6}, "tickWidth": 1.2, "tickColor": "#000000", "labelExpr": "datum.value==1?'1':datum.value==0.1?'0.1':datum.value==0.01?'0.01':datum.value==0.001?'0.001':datum.value==0.0001?'0.0001':''", "labelFontSize": 19, "labelColor": "#000000", "labelPadding": 34, "labelFlush": false, "labelOverlap": false, "title": "DDX [mb/sr/MeV]", "titleFontSize": 19, "titleFontWeight": "normal", "titleColor": "#000000", "titlePadding": 94}},
  "color": {"field": "s", "type": "nominal", "scale": {"domain": ["Al(p,Be) 90deg. BCC","Default","ISOBAR","QMD","Machner 90deg."], "range": ["#ff0000","#22dd22","#5a5aff","#ff55ff","#00eeee"]},
   "legend": {"orient": "none", "legendX": 435, "legendY": 16, "title": null, "padding": 0, "labelFontSize": 30, "labelColor": "#000000", "labelAlign": "right", "labelOffset": -77, "labelLimit": 500, "symbolSize": 7744, "symbolStrokeWidth": 1.5, "rowPadding": 1,
    "encode": {"symbols": {"update": {"shape": {"signal": "indexof(datum.value,'BCC')>=0 ? 'M-1,0L1,0M-1,-0.14L-1,0.14M1,-0.14L1,0.14M0,-0.1L0,0.1' : indexof(datum.value,'Machner')>=0 ? 'M-1,0L1,0M-1,0L-1,-0.13M-1,0L-1,0.13M1,0L1,-0.13M1,0L1,0.13M0,0L-0.09,-0.09M0,0L0.09,0.09M0,0L-0.09,0.09M0,0L0.09,-0.09' : 'stroke'"}, "strokeDash": {"signal": "datum.value=='Default' ? [7,5] : datum.value=='ISOBAR' ? [3,6] : datum.value=='QMD' ? [2,2] : indexof(datum.value,'Machner')>=0 ? [6,3,2,3] : [1,0]"}, "strokeWidth": {"signal": "datum.value=='ISOBAR' ? 2.5 : 1.5"}, "fill": {"value": "transparent"}}}}}},
  "strokeDash": {"field": "s", "type": "nominal", "scale": {"domain": ["Default","ISOBAR","QMD"], "range": [[7,5],[3,6],[2,2]]}, "legend": null},
  "strokeWidth": {"field": "s", "type": "ordinal", "scale": {"domain": ["Default","ISOBAR","QMD"], "range": [1.4,2.4,1.8]}, "legend": null}
 }},
{"data": {"name": "b3"}, "mark": {"type": "rule", "color": "#ff0000", "strokeWidth": 1.5, "clip": true},
 "encoding": {
  "x": {"field": "E", "type": "quantitative", "scale": {"domain": [0,100], "nice": false, "zero": false}, "axis": {"orient": "top", "values": [0,20,40,60,80,100], "tickSize": -12, "tickWidth": 1.2, "tickColor": "#000000", "labels": false, "title": null}},
  "y": {"field": "lo", "type": "quantitative", "scale": {"type": "log", "domain": [0.0001,1], "nice": false}, "axis": {"orient": "right", "values": [0.0001,0.0002,0.0003,0.0004,0.0005,0.0006,0.0007,0.0008,0.0009,0.001,0.002,0.003,0.004,0.005,0.006,0.007,0.008,0.009,0.01,0.02,0.03,0.04,0.05,0.06,0.07,0.08,0.09,0.1,0.2,0.3,0.4,0.5,0.6,0.7,0.8,0.9,1], "tickSize": {"condition": {"test": "datum.value==1||datum.value==0.1||datum.value==0.01||datum.value==0.001||datum.value==0.0001", "value": -12}, "value": -6}, "tickWidth": 1.2, "tickColor": "#000000", "labels": false, "title": null}},
  "y2": {"field": "hi"}
 }},
{"data": {"name": "b3"}, "mark": {"type": "tick", "orient": "horizontal", "color": "#ff0000", "size": 13, "thickness": 1.5, "clip": true},
 "encoding": {"x": {"field": "E", "type": "quantitative", "scale": {"domain": [0,100], "nice": false, "zero": false}, "axis": null}, "y": {"field": "v", "type": "quantitative", "scale": {"type": "log", "domain": [0.0001,1], "nice": false}, "axis": null}}},
{"data": {"name": "b3"}, "mark": {"type": "tick", "orient": "horizontal", "color": "#ff0000", "size": 13, "thickness": 1.5, "clip": true},
 "encoding": {"x": {"field": "E", "type": "quantitative", "scale": {"domain": [0,100], "nice": false, "zero": false}, "axis": null}, "y": {"field": "lo", "type": "quantitative", "scale": {"type": "log", "domain": [0.0001,1], "nice": false}, "axis": null}}},
{"data": {"name": "b3"}, "mark": {"type": "tick", "orient": "horizontal", "color": "#ff0000", "size": 13, "thickness": 1.5, "clip": true},
 "encoding": {"x": {"field": "E", "type": "quantitative", "scale": {"domain": [0,100], "nice": false, "zero": false}, "axis": null}, "y": {"field": "hi", "type": "quantitative", "scale": {"type": "log", "domain": [0.0001,1], "nice": false}, "axis": null}}},
{"data": {"name": "m3"}, "mark": {"type": "rule", "color": "#00eeee", "strokeWidth": 1.5, "clip": true},
 "encoding": {"x": {"field": "E", "type": "quantitative", "scale": {"domain": [0,100], "nice": false, "zero": false}, "axis": null}, "y": {"field": "lo", "type": "quantitative", "scale": {"type": "log", "domain": [0.0001,1], "nice": false}, "axis": null}, "y2": {"field": "hi"}}},
{"data": {"name": "m3"}, "mark": {"type": "tick", "orient": "horizontal", "color": "#00eeee", "size": 11, "thickness": 1.5, "clip": true},
 "encoding": {"x": {"field": "E", "type": "quantitative", "scale": {"domain": [0,100], "nice": false, "zero": false}, "axis": null}, "y": {"field": "lo", "type": "quantitative", "scale": {"type": "log", "domain": [0.0001,1], "nice": false}, "axis": null}}},
{"data": {"name": "m3"}, "mark": {"type": "tick", "orient": "horizontal", "color": "#00eeee", "size": 11, "thickness": 1.5, "clip": true},
 "encoding": {"x": {"field": "E", "type": "quantitative", "scale": {"domain": [0,100], "nice": false, "zero": false}, "axis": null}, "y": {"field": "hi", "type": "quantitative", "scale": {"type": "log", "domain": [0.0001,1], "nice": false}, "axis": null}}},
{"data": {"name": "m3"}, "mark": {"type": "point", "shape": "M-1,-1L1,1M-1,1L1,-1", "filled": false, "color": "#00eeee", "size": 100, "strokeWidth": 1.5, "opacity": 1, "clip": true},
 "encoding": {"x": {"field": "E", "type": "quantitative", "scale": {"domain": [0,100], "nice": false, "zero": false}, "axis": null}, "y": {"field": "v", "type": "quantitative", "scale": {"type": "log", "domain": [0.0001,1], "nice": false}, "axis": null}}}
]
},
{
"width": 530, "height": 427,
"resolve": {"axis": {"x": "independent", "y": "independent"}},
"layer": [
{"data": {"values": [{}]}, "mark": {"type": "text", "text": "Preliminary", "fontSize": 48, "color": "#d4d4d4"},
 "encoding": {"x": {"datum": 58.5, "type": "quantitative", "scale": {"domain": [0,100], "nice": false, "zero": false}, "axis": null}, "y": {"datum": 0.0023, "type": "quantitative", "scale": {"type": "log", "domain": [0.0001,1], "nice": false}, "axis": null}}},
{"data": {"name": "l4"}, "mark": {"type": "line", "clip": true},
 "encoding": {
  "x": {"field": "E", "type": "quantitative", "scale": {"domain": [0,100], "nice": false, "zero": false}, "axis": {"orient": "bottom", "values": [0,20,40,60,80,100], "tickSize": -12, "tickWidth": 1.2, "tickColor": "#000000", "labelFontSize": 19, "labelColor": "#000000", "labelPadding": 33, "labelFlush": false, "title": "Particle energy [MeV]", "titleFontSize": 19, "titleFontWeight": "normal", "titleColor": "#000000", "titlePadding": 30}},
  "y": {"field": "v", "type": "quantitative", "scale": {"type": "log", "domain": [0.0001,1], "nice": false}, "axis": {"orient": "left", "values": [0.0001,0.0002,0.0003,0.0004,0.0005,0.0006,0.0007,0.0008,0.0009,0.001,0.002,0.003,0.004,0.005,0.006,0.007,0.008,0.009,0.01,0.02,0.03,0.04,0.05,0.06,0.07,0.08,0.09,0.1,0.2,0.3,0.4,0.5,0.6,0.7,0.8,0.9,1], "tickSize": {"condition": {"test": "datum.value==1||datum.value==0.1||datum.value==0.01||datum.value==0.001||datum.value==0.0001", "value": -12}, "value": -6}, "tickWidth": 1.2, "tickColor": "#000000", "labelExpr": "datum.value==1?'1':datum.value==0.1?'0.1':datum.value==0.01?'0.01':datum.value==0.001?'0.001':datum.value==0.0001?'0.0001':''", "labelFontSize": 19, "labelColor": "#000000", "labelPadding": 34, "labelFlush": false, "labelOverlap": false, "title": "DDX [mb/sr/MeV]", "titleFontSize": 19, "titleFontWeight": "normal", "titleColor": "#000000", "titlePadding": 94}},
  "color": {"field": "s", "type": "nominal", "scale": {"domain": ["Al(p,Be) 120deg. BCC","Default","ISOBAR","QMD","Machner 110deg."], "range": ["#ff0000","#22dd22","#5a5aff","#ff55ff","#00eeee"]},
   "legend": {"orient": "none", "legendX": 435, "legendY": 16, "title": null, "padding": 0, "labelFontSize": 30, "labelColor": "#000000", "labelAlign": "right", "labelOffset": -77, "labelLimit": 500, "symbolSize": 7744, "symbolStrokeWidth": 1.5, "rowPadding": 1,
    "encode": {"symbols": {"update": {"shape": {"signal": "indexof(datum.value,'BCC')>=0 ? 'M-1,0L1,0M-1,-0.14L-1,0.14M1,-0.14L1,0.14M0,-0.1L0,0.1' : indexof(datum.value,'Machner')>=0 ? 'M-1,0L1,0M-1,0L-1,-0.13M-1,0L-1,0.13M1,0L1,-0.13M1,0L1,0.13M0,0L-0.09,-0.09M0,0L0.09,0.09M0,0L-0.09,0.09M0,0L0.09,-0.09' : 'stroke'"}, "strokeDash": {"signal": "datum.value=='Default' ? [7,5] : datum.value=='ISOBAR' ? [3,6] : datum.value=='QMD' ? [2,2] : indexof(datum.value,'Machner')>=0 ? [6,3,2,3] : [1,0]"}, "strokeWidth": {"signal": "datum.value=='ISOBAR' ? 2.5 : 1.5"}, "fill": {"value": "transparent"}}}}}},
  "strokeDash": {"field": "s", "type": "nominal", "scale": {"domain": ["Default","ISOBAR","QMD"], "range": [[7,5],[3,6],[2,2]]}, "legend": null},
  "strokeWidth": {"field": "s", "type": "ordinal", "scale": {"domain": ["Default","ISOBAR","QMD"], "range": [1.4,2.4,1.8]}, "legend": null}
 }},
{"data": {"name": "b4"}, "mark": {"type": "rule", "color": "#ff0000", "strokeWidth": 1.5, "clip": true},
 "encoding": {
  "x": {"field": "E", "type": "quantitative", "scale": {"domain": [0,100], "nice": false, "zero": false}, "axis": {"orient": "top", "values": [0,20,40,60,80,100], "tickSize": -12, "tickWidth": 1.2, "tickColor": "#000000", "labels": false, "title": null}},
  "y": {"field": "lo", "type": "quantitative", "scale": {"type": "log", "domain": [0.0001,1], "nice": false}, "axis": {"orient": "right", "values": [0.0001,0.0002,0.0003,0.0004,0.0005,0.0006,0.0007,0.0008,0.0009,0.001,0.002,0.003,0.004,0.005,0.006,0.007,0.008,0.009,0.01,0.02,0.03,0.04,0.05,0.06,0.07,0.08,0.09,0.1,0.2,0.3,0.4,0.5,0.6,0.7,0.8,0.9,1], "tickSize": {"condition": {"test": "datum.value==1||datum.value==0.1||datum.value==0.01||datum.value==0.001||datum.value==0.0001", "value": -12}, "value": -6}, "tickWidth": 1.2, "tickColor": "#000000", "labels": false, "title": null}},
  "y2": {"field": "hi"}
 }},
{"data": {"name": "b4"}, "mark": {"type": "tick", "orient": "horizontal", "color": "#ff0000", "size": 13, "thickness": 1.5, "clip": true},
 "encoding": {"x": {"field": "E", "type": "quantitative", "scale": {"domain": [0,100], "nice": false, "zero": false}, "axis": null}, "y": {"field": "v", "type": "quantitative", "scale": {"type": "log", "domain": [0.0001,1], "nice": false}, "axis": null}}},
{"data": {"name": "b4"}, "mark": {"type": "tick", "orient": "horizontal", "color": "#ff0000", "size": 13, "thickness": 1.5, "clip": true},
 "encoding": {"x": {"field": "E", "type": "quantitative", "scale": {"domain": [0,100], "nice": false, "zero": false}, "axis": null}, "y": {"field": "lo", "type": "quantitative", "scale": {"type": "log", "domain": [0.0001,1], "nice": false}, "axis": null}}},
{"data": {"name": "b4"}, "mark": {"type": "tick", "orient": "horizontal", "color": "#ff0000", "size": 13, "thickness": 1.5, "clip": true},
 "encoding": {"x": {"field": "E", "type": "quantitative", "scale": {"domain": [0,100], "nice": false, "zero": false}, "axis": null}, "y": {"field": "hi", "type": "quantitative", "scale": {"type": "log", "domain": [0.0001,1], "nice": false}, "axis": null}}},
{"data": {"name": "m4"}, "mark": {"type": "rule", "color": "#00eeee", "strokeWidth": 1.5, "clip": true},
 "encoding": {"x": {"field": "E", "type": "quantitative", "scale": {"domain": [0,100], "nice": false, "zero": false}, "axis": null}, "y": {"field": "lo", "type": "quantitative", "scale": {"type": "log", "domain": [0.0001,1], "nice": false}, "axis": null}, "y2": {"field": "hi"}}},
{"data": {"name": "m4"}, "mark": {"type": "tick", "orient": "horizontal", "color": "#00eeee", "size": 11, "thickness": 1.5, "clip": true},
 "encoding": {"x": {"field": "E", "type": "quantitative", "scale": {"domain": [0,100], "nice": false, "zero": false}, "axis": null}, "y": {"field": "lo", "type": "quantitative", "scale": {"type": "log", "domain": [0.0001,1], "nice": false}, "axis": null}}},
{"data": {"name": "m4"}, "mark": {"type": "tick", "orient": "horizontal", "color": "#00eeee", "size": 11, "thickness": 1.5, "clip": true},
 "encoding": {"x": {"field": "E", "type": "quantitative", "scale": {"domain": [0,100], "nice": false, "zero": false}, "axis": null}, "y": {"field": "hi", "type": "quantitative", "scale": {"type": "log", "domain": [0.0001,1], "nice": false}, "axis": null}}},
{"data": {"name": "m4"}, "mark": {"type": "point", "shape": "M-1,-1L1,1M-1,1L1,-1", "filled": false, "color": "#00eeee", "size": 100, "strokeWidth": 1.5, "opacity": 1, "clip": true},
 "encoding": {"x": {"field": "E", "type": "quantitative", "scale": {"domain": [0,100], "nice": false, "zero": false}, "axis": null}, "y": {"field": "v", "type": "quantitative", "scale": {"type": "log", "domain": [0.0001,1], "nice": false}, "axis": null}}}
]
}
]
}
